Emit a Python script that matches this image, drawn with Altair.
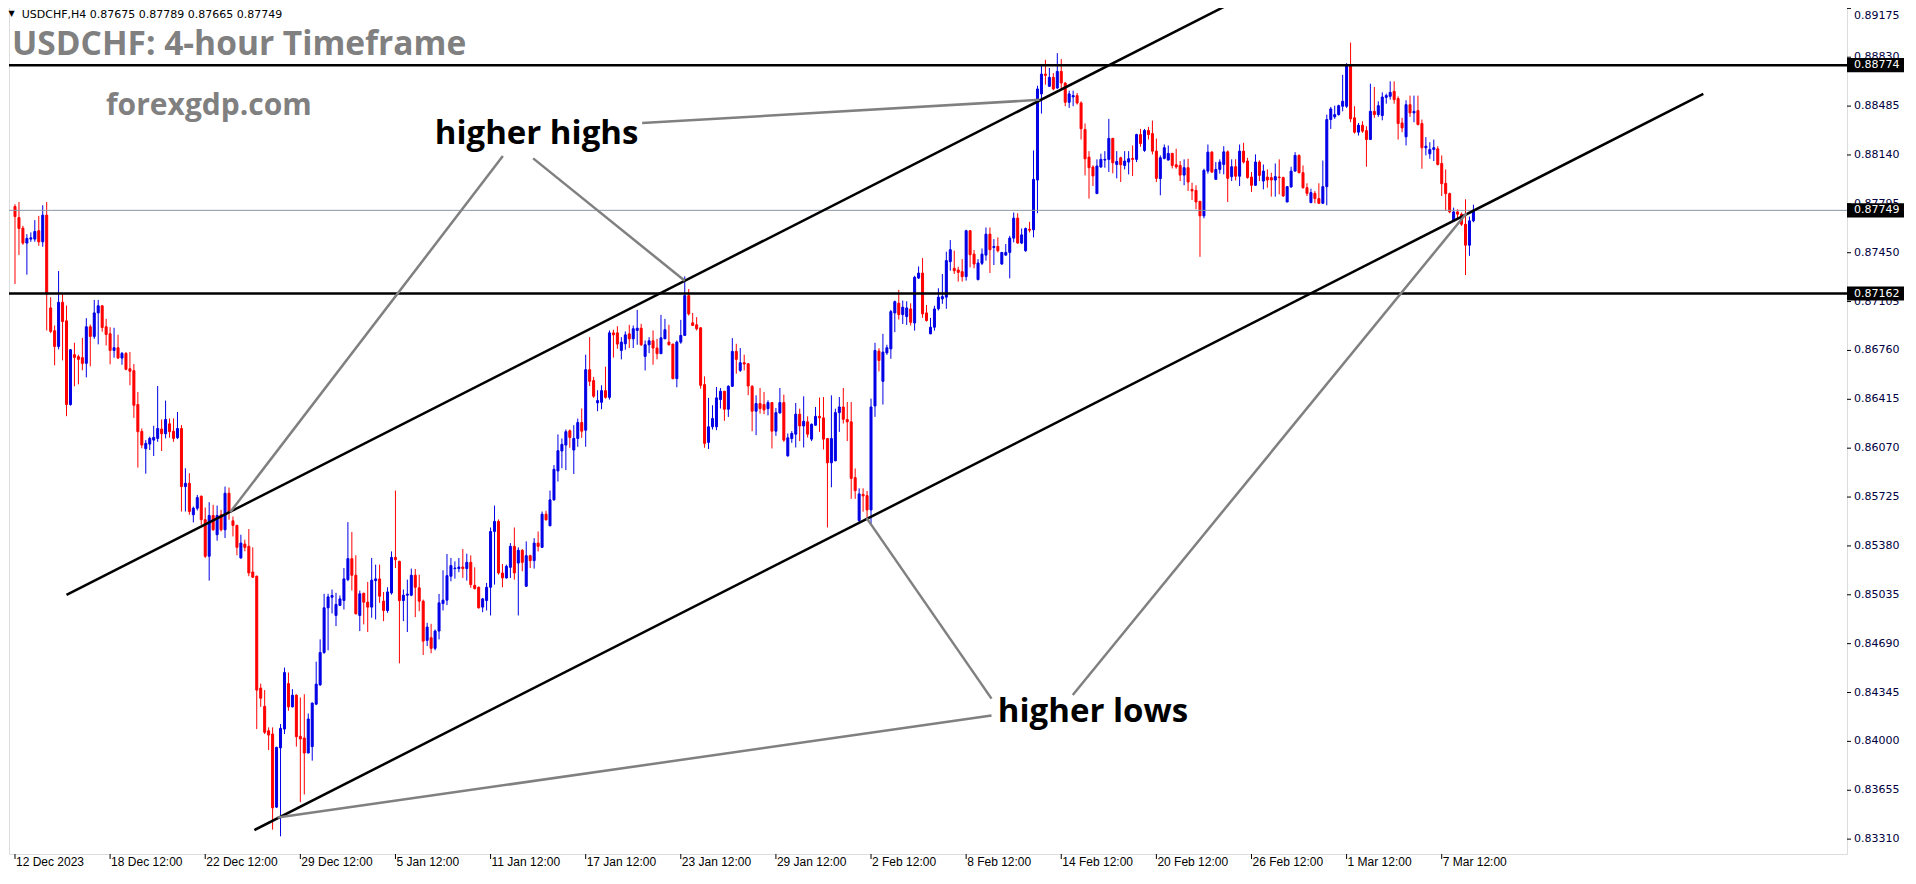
import altair as alt
import pandas as pd

# ---------------- data (prices in 1e-5 units) ----------------
OPEN = [
87776,87698,87623,87518,87546,87546,87605,87527,87715,87060,
86899,86788,87100,86969,86378,86730,86716,86709,86669,86927,
86859,87025,87075,86927,86878,86760,86779,86706,86739,86631,
86617,86378,86188,86066,86099,86127,86139,86205,86172,86242,
86190,86144,86209,85799,85822,85600,85646,85731,85565,85307,
85595,85459,85600,85494,85752,85557,85525,85295,85393,85377,
85196,85166,84376,84247,84075,84052,83536,83954,84087,84408,
84244,84326,84036,84024,83918,83963,84263,84399,84627,84943,
85018,84889,84960,84995,85142,85290,85173,84889,85046,84983,
84948,85135,85147,84990,84924,85048,85299,85271,84994,85032,
85032,85173,85084,84990,84713,84732,84657,84779,84973,84997,
85166,85220,85220,85231,85220,85264,85102,85088,84948,84994,
85088,85482,85553,85189,85154,85229,85377,85259,85349,85095,
85311,85276,85400,85370,85604,85522,85705,85909,86050,86092,
86193,86057,86139,86251,86197,86624,86547,86390,86394,86476,
86429,86884,86884,86760,86807,86877,86842,86901,86917,86718,
86800,86828,86777,86737,86842,86819,86805,86561,86819,86866,
87147,86955,86941,86920,86519,86111,86221,86221,86413,86472,
86345,86507,86753,86619,86673,86666,86507,86331,86385,86378,
86349,86392,86190,86319,86392,86016,86138,86169,86310,86227,
86256,86134,86232,86295,86284,86138,85967,85981,86321,86361,
86272,86256,85862,85559,85744,85735,85634,86368,86755,86542,
86743,86771,87025,87093,87013,86999,87053,86954,87271,87306,
87025,86877,86924,87054,87124,87136,87387,87340,87328,87316,
87281,87605,87440,87260,87375,87433,87581,87487,87494,87370,
87433,87452,87553,87694,87518,87464,87616,87612,87963,88571,
88711,88625,88688,88613,88730,88648,88512,88550,88559,88507,
88320,88125,88055,87867,88055,88104,88109,88257,88073,88120,
88066,88090,88116,88109,88284,88172,88313,88291,88167,87973,
88116,88104,88151,88071,88066,87998,88050,87897,87890,87813,
87710,88026,88160,87968,88038,88073,88162,87987,88057,87990,
88167,88097,87984,87926,88090,87956,87984,87980,87963,87984,
87980,87808,87914,88026,88137,88015,87909,87804,87869,87832,
87799,87916,88390,88409,88425,88484,88484,88770,88402,88301,
88350,88312,88249,88448,88425,88418,88547,88554,88589,88538,
88366,88268,88495,88437,88453,88362,88191,88148,88179,88183,
88080,87940,87867,87675,87738,87722,87651,87503,87675,
]
HIGH = [
87792,87808,87640,87581,87593,87680,87710,87785,87808,87136,
86936,87321,87159,87077,86770,86814,86730,86849,86988,86943,
87117,87117,87080,86983,86924,86920,86871,86749,86749,86749,
86664,86467,86209,86127,86151,86228,86509,86273,86406,86280,
86280,86326,86233,85928,85893,85658,85740,85735,85651,85689,
85670,85665,85635,85799,85792,85588,85529,85459,85424,85499,
85370,85170,84408,84362,84099,84099,83962,84122,84521,84486,
84369,84333,84310,84333,84197,84275,84563,84720,85042,85042,
85072,85049,85030,85224,85548,85478,85314,85065,85049,85126,
85295,85248,85248,85055,85088,85341,85771,85276,85072,85142,
85220,85217,85177,85001,84837,84830,84790,85041,85208,85323,
85295,85271,85295,85358,85325,85313,85229,85093,85013,85119,
85510,85665,85567,85252,85248,85400,85510,85370,85358,85412,
85318,85435,85482,85623,85628,85771,85951,86167,86139,86202,
86202,86232,86279,86350,86730,86854,86573,86479,86514,86645,
86901,86906,86931,86854,86894,86941,86936,87046,86948,86830,
86854,86901,86842,87011,86983,86941,86807,86830,86976,87283,
87194,87025,86995,86922,86577,86425,86373,86502,86495,86474,
86514,86847,86807,86777,86730,86671,86514,86443,86495,86467,
86408,86395,86354,86495,86448,86174,86190,86389,86349,86436,
86295,86244,86361,86427,86431,86140,86443,86349,86431,86495,
86396,86396,85927,85787,85787,85768,86420,86814,86776,86877,
86800,87046,87112,87187,87112,87107,87093,87287,87353,87412,
87081,86990,87075,87199,87300,87457,87539,87464,87351,87405,
87612,87610,87469,87405,87480,87628,87628,87546,87558,87455,
87511,87569,87734,87729,87621,87628,87668,88172,88629,88770,
88812,88754,88718,88859,88817,88653,88594,88594,88578,88519,
88362,88167,88067,88109,88149,88167,88395,88261,88167,88127,
88167,88167,88207,88290,88324,88324,88338,88383,88256,88137,
88214,88207,88155,88184,88097,88109,88113,87944,87926,87815,
88043,88214,88167,88090,88109,88202,88172,88109,88110,88214,
88226,88120,88019,88144,88102,88073,88038,88015,88080,88109,
87987,87921,88057,88160,88144,88066,87940,87902,87886,87940,
88101,88425,88479,88488,88495,88706,88788,88934,88484,88366,
88378,88343,88643,88620,88519,88582,88573,88660,88660,88554,
88402,88526,88559,88559,88559,88390,88266,88230,88249,88202,
88137,88038,87874,87768,87757,87733,87827,87705,87789,
]
LOW = [
87229,87433,87506,87295,87527,87527,87499,87492,86901,86882,
86655,86767,86690,86296,86370,86507,86521,86620,86570,86648,
86842,86803,86892,86795,86662,86709,86702,86659,86620,86514,
86284,85933,86069,85890,86057,86015,86115,86050,86139,86144,
86115,86134,85623,85623,85600,85546,85630,85529,85295,85135,
85487,85417,85482,85436,85565,85447,85314,85290,85342,85166,
85154,84087,84244,84052,83939,83377,83530,83330,84052,84216,
84240,83963,83571,83625,83916,83864,84256,84392,84619,84643,
84903,84814,84955,84931,85131,85065,84896,84779,84826,84772,
84873,84861,84978,84849,84908,85036,85224,84551,84849,84772,
85025,84877,84919,84610,84673,84622,84643,84720,84924,84962,
85130,85149,85194,85154,85135,85084,85072,84938,84912,84924,
84889,85107,85177,85088,85149,85154,85142,84889,85201,85095,
85224,85220,85341,85365,85560,85520,85700,85834,85928,85916,
86073,85888,86080,86143,86080,86509,86425,86331,86345,86420,
86413,86709,86772,86697,86765,86777,86777,86800,86791,86619,
86741,86659,86697,86737,86842,86795,86556,86500,86807,86866,
87006,86936,86901,86490,86073,86064,86202,86197,86350,86263,
86291,86502,86596,86608,86619,86444,86190,86162,86314,86310,
86302,86068,86157,86314,86115,86010,86108,86075,86120,86075,
86145,86120,86230,86185,86061,85510,85794,85978,86185,86244,
86120,85712,85712,85547,85622,85580,85533,86291,86612,86378,
86729,86701,86889,86978,86947,86940,86936,86900,87264,86990,
86964,86877,86900,87042,87089,87054,87323,87300,87246,87246,
87253,87347,87340,87255,87363,87394,87307,87363,87452,87365,
87429,87269,87523,87515,87511,87457,87593,87558,87729,88432,
88636,88620,88597,88606,88601,88484,88472,88484,88496,88249,
87996,87832,87921,87865,88050,88050,88020,88010,87975,87949,
88038,88003,87991,88090,88198,88162,88249,88144,87949,87855,
88109,88102,88045,88043,87956,87926,87886,87822,87757,87421,
87693,88008,88015,87966,88008,88003,87808,87956,87960,87921,
88080,87973,87879,87924,87956,87897,87909,87846,87846,87862,
87844,87806,87909,88024,88010,87902,87850,87799,87799,87794,
87794,87785,88324,88395,88418,88448,88472,88371,88291,88277,
88296,88057,88249,88402,88409,88385,88502,88531,88502,88249,
88301,88207,88409,88371,88348,88043,88137,88113,88097,88066,
87850,87745,87729,87668,87686,87639,87292,87428,87665,
]
CLOSE = [
87705,87621,87518,87551,87555,87600,87527,87715,87159,86894,
86788,87100,86964,86378,86765,86711,86697,86669,86927,86859,
87025,87075,86922,86873,86760,86779,86706,86739,86627,86613,
86373,86186,86092,86104,86139,86146,86209,86172,86273,86186,
86139,86209,85799,85822,85623,85646,85721,85565,85307,85595,
85494,85595,85494,85752,85616,85525,85370,85400,85370,85189,
85159,84362,84305,84064,84045,83531,83958,84092,84486,84244,
84326,84033,84017,83918,84158,84270,84404,84627,84943,85020,
85030,84967,85006,85147,85290,85173,84901,85042,84983,84948,
85138,85147,85025,84924,85055,85299,85283,84994,85032,85040,
85173,85088,84990,84708,84807,84657,84779,84978,84997,85170,
85241,85224,85231,85220,85264,85107,85079,84943,85006,85088,
85482,85553,85189,85154,85236,85377,85189,85349,85264,85311,
85276,85400,85377,85604,85564,85705,85921,86052,86097,86186,
86146,86139,86251,86190,86624,86542,86437,86406,86476,86429,
86884,86870,86805,86819,86870,86842,86913,86917,86800,86800,
86828,86777,86737,86849,86906,86800,86561,86819,86866,87147,
87018,86936,86913,86514,86104,86221,86279,86425,86472,86345,
86507,86753,86697,86673,86664,86509,86331,86385,86350,86340,
86392,86190,86321,86392,86127,86143,86174,86310,86227,86260,
86169,86239,86295,86284,86134,85967,86138,86321,86361,86274,
86256,85857,85770,85747,85733,85634,86361,86760,86689,86748,
86779,87034,87104,87013,87065,87060,86959,87276,87306,87018,
86971,86924,87053,87136,87140,87394,87471,87323,87311,87281,
87605,87436,87370,87377,87440,87581,87471,87494,87464,87452,
87452,87553,87694,87518,87576,87621,87609,87968,88606,88711,
88702,88688,88606,88730,88648,88512,88571,88559,88507,88325,
88113,88050,87992,88062,88109,88109,88257,88085,88094,88071,
88097,88113,88109,88284,88221,88313,88284,88167,87975,88120,
88191,88151,88066,88055,87998,88050,87949,87886,87808,87710,
88031,88160,88019,88038,88090,88162,87975,88057,87990,88167,
88090,87980,87926,88090,87996,88026,87963,87963,87987,87980,
87851,87916,88026,88137,88015,87909,87869,87874,87832,87799,
87916,88390,88465,88425,88488,88519,88770,88395,88301,88350,
88308,88249,88448,88425,88488,88549,88559,88582,88531,88362,
88331,88495,88437,88448,88355,88191,88202,88179,88191,88073,
87937,87867,87738,87738,87722,87651,87503,87675,87749,
]

X_TICK_BARS = [0, 24, 48, 72, 96, 120, 144, 168, 192, 216, 240, 264, 288, 312, 336, 360]
X_TICK_LABELS = ["12 Dec 2023", "18 Dec 12:00", "22 Dec 12:00", "29 Dec 12:00",
                 "5 Jan 12:00", "11 Jan 12:00", "17 Jan 12:00", "23 Jan 12:00",
                 "29 Jan 12:00", "2 Feb 12:00", "8 Feb 12:00", "14 Feb 12:00",
                 "20 Feb 12:00", "26 Feb 12:00", "1 Mar 12:00", "7 Mar 12:00"]
Y_TICKS = [0.83310, 0.83655, 0.84000, 0.84345, 0.84690, 0.85035, 0.85380, 0.85725,
           0.86070, 0.86415, 0.86760, 0.87105, 0.87450, 0.87795, 0.88140, 0.88485,
           0.88830, 0.89175]

LEVELS = [0.88774, 0.87162]
CURRENT = [0.87749]
BOX_PRICES = [0.88774, 0.87749, 0.87162]

TREND_ID = ["upper", "upper", "lower", "lower"]
TREND_BAR = [13, 306.6, 60.4, 426]
TREND_PRICE = [0.85034, 0.89208, 0.83374, 0.88571]

POINTER_ID = ["hh1", "hh1", "hh2", "hh2", "hh3", "hh3", "hl1", "hl1", "hl2", "hl2", "hl3", "hl3"]
POINTER_BAR = [123.1, 54.3, 130.75, 169, 158.25, 258.5, 246.4, 214.9, 246.4, 66.25, 266.9, 366.25]
POINTER_PRICE = [0.88132, 0.85618, 0.88116, 0.87252, 0.88365, 0.88529,
                 0.84302, 0.85576, 0.84183, 0.83462, 0.84328, 0.87729]

NOTE_TEXT = ["higher highs", "higher lows"]
NOTE_BAR = [131.6, 272.0]
NOTE_PRICE = [0.88287, 0.84207]

# ---------------- chart ----------------
S = 1e-5
df = pd.DataFrame({
    "bar": list(range(len(OPEN))),
    "open": [v * S for v in OPEN],
    "high": [v * S for v in HIGH],
    "low": [v * S for v in LOW],
    "close": [v * S for v in CLOSE],
})
df["dir"] = ["up" if c >= o else "down" for o, c in zip(OPEN, CLOSE)]

W, H = 1838, 853
xs = alt.Scale(domain=[-0.25, 461.0], nice=False, zero=False)
ys = alt.Scale(domain=[0.83205, 0.89227], nice=False, zero=False)
cscale = alt.Scale(domain=["up", "down"], range=["#0000e6", "#ff0000"])


def X(field="bar"):
    return alt.X(f"{field}:Q", scale=xs, axis=None)


def Y(field):
    return alt.Y(f"{field}:Q", scale=ys, axis=None)


wicks = alt.Chart(df).mark_rule(strokeWidth=1).encode(
    x=X(), y=Y("low"), y2="high:Q",
    color=alt.Color("dir:N", scale=cscale, legend=None),
)
bodies = alt.Chart(df).mark_bar(size=2, strokeWidth=1).encode(
    x=X(), y=Y("open"), y2="close:Q",
    color=alt.Color("dir:N", scale=cscale, legend=None),
    stroke=alt.Stroke("dir:N", scale=cscale, legend=None),
)
current = alt.Chart(pd.DataFrame({"price": CURRENT})).mark_rule(
    color="#8a96a4", strokeWidth=1).encode(y=Y("price"))
levels = alt.Chart(pd.DataFrame({"price": LEVELS})).mark_rule(
    color="black", strokeWidth=2.5).encode(y=Y("price"))

trend_df = pd.DataFrame({"line": TREND_ID, "bar": TREND_BAR, "price": TREND_PRICE})
trend = alt.Chart(trend_df).mark_line(color="black", strokeWidth=2.5).encode(
    x=X(), y=Y("price"), detail="line:N")
ptr_df = pd.DataFrame({"line": POINTER_ID, "bar": POINTER_BAR, "price": POINTER_PRICE})
pointers = alt.Chart(ptr_df).mark_line(color="#808080", strokeWidth=2.5).encode(
    x=X(), y=Y("price"), detail="line:N")
note_df = pd.DataFrame({"text": NOTE_TEXT, "bar": NOTE_BAR, "price": NOTE_PRICE})
notes = alt.Chart(note_df).mark_text(font="Open Sans", fontWeight="bold", fontSize=33,
                                     color="black", align="center", baseline="middle").encode(
    x=X(), y=Y("price"), text="text:N")

# axes drawn as marks
xl_df = pd.DataFrame({"bar": X_TICK_BARS, "label": X_TICK_LABELS})
xticks = alt.Chart(xl_df).mark_rule(color="black", strokeWidth=1).encode(
    x=X(), y=alt.value(H), y2=alt.value(H + 5))
xlabels = alt.Chart(xl_df).mark_text(align="left", baseline="top", dx=1,
                                     font="Liberation Sans", fontSize=12, color="black").encode(
    x=X(), y=alt.value(H + 3), text="label:N")
yl_df = pd.DataFrame({"price": Y_TICKS})
yticks = alt.Chart(yl_df).mark_rule(color="black", strokeWidth=1).encode(
    x=alt.value(W), x2=alt.value(W + 4), y=Y("price"))
ylabel_style = dict(align="left", baseline="middle", font="DejaVu Sans",
                    fontSize=11, color="#000040")
ylabels = alt.Chart(yl_df).transform_filter("datum.price < 0.8915").mark_text(
    **ylabel_style).encode(
    x=alt.value(W + 7), y=Y("price"), text=alt.Text("price:Q", format=".5f"))
ylabel_top = alt.Chart(yl_df).transform_filter("datum.price >= 0.8915").mark_text(
    dy=8, **ylabel_style).encode(
    x=alt.value(W + 7), y=Y("price"), text=alt.Text("price:Q", format=".5f"))

box_df = pd.DataFrame({"price": BOX_PRICES,
                       "top": [p + 0.0005 for p in BOX_PRICES],
                       "bot": [p - 0.0005 for p in BOX_PRICES]})
boxes = alt.Chart(box_df).mark_rect(color="black").encode(
    x=alt.value(W), x2=alt.value(W + 57), y=Y("top"), y2="bot:Q")
box_text = alt.Chart(box_df).mark_text(font="DejaVu Sans", fontSize=11, color="white",
                                       align="left", baseline="middle").encode(
    x=alt.value(W + 7), y=Y("price"), text=alt.Text("price:Q", format=".5f"))

one = pd.DataFrame({"a": [0]})
title = alt.Chart(one).mark_text(font="Open Sans", fontWeight="bold", fontSize=33.5,
                                 color="#808080", align="left", baseline="alphabetic").encode(
    x=alt.value(3), y=alt.value(54), text=alt.value("USDCHF: 4-hour Timeframe"))
site = alt.Chart(one).mark_text(font="Open Sans", fontWeight="bold", fontSize=30,
                                color="#808080", align="left", baseline="alphabetic").encode(
    x=alt.value(97), y=alt.value(114), text=alt.value("forexgdp.com"))
tri = alt.Chart(one).mark_text(font="DejaVu Sans", fontSize=8, color="black",
                               align="center", baseline="middle").encode(
    x=alt.value(2.5), y=alt.value(13.3), text=alt.value("\u25bc"))
header = alt.Chart(one).mark_text(font="DejaVu Sans", fontSize=11, color="black",
                                  align="left", baseline="middle").encode(
    x=alt.value(12.7), y=alt.value(13.5),
    text=alt.value("USDCHF,H4  0.87675 0.87789 0.87665 0.87749"))

chart = alt.layer(
    wicks, bodies, current, levels, trend, pointers, notes,
    xticks, xlabels, yticks, ylabels, ylabel_top, boxes, box_text,
    title, site, tri, header,
).properties(
    width=W, height=H,
    padding={"left": 1, "top": -7, "right": 58, "bottom": 16},
    autosize=alt.AutoSizeParams(type="none"),
).configure_view(stroke="black", strokeWidth=1).configure(background="white")

chart.save("out.html", embed_options={"renderer": "svg", "actions": False})
